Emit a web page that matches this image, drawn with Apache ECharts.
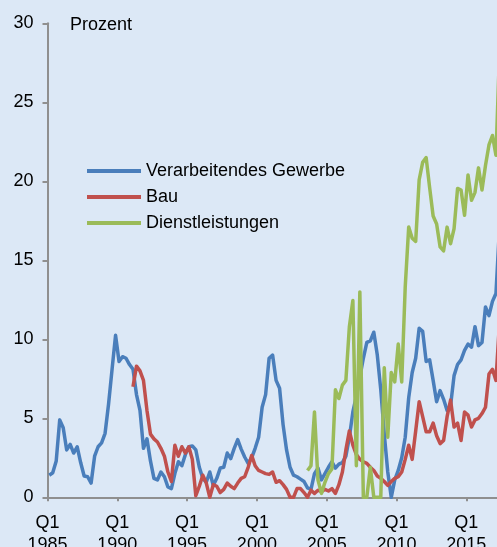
<!DOCTYPE html>
<html>
<head>
<meta charset="utf-8">
<script src="https://cdn.jsdelivr.net/npm/echarts@6/dist/echarts.min.js"></script>
<style>
html,body{margin:0;padding:0;background:#dce8f6;}
#chart{width:497px;height:547px;}
</style>
</head>
<body>
<div id="chart"></div>
<script>
// Quarterly series, starting 1985 Q1 (index 0)
const startYear = 1985;
const seriesNames = ['Verarbeitendes Gewerbe', 'Bau', 'Dienstleistungen'];

const manufacturing = [
 1.4,1.55,2.3,4.9,4.4,3.0,3.35,2.8,3.2,2.2,
 1.35,1.3,0.9,2.6,3.2,3.45,4.05,5.9,8.1,10.25,
 8.6,8.9,8.8,8.4,8.1,6.5,5.5,3.1,3.7,2.3,
 1.2,1.1,1.6,1.3,0.65,0.55,1.5,2.25,2.0,2.7,
 3.2,3.25,3.0,1.9,1.2,0.95,1.6,0.75,1.2,1.85,
 1.9,2.8,2.45,3.1,3.65,3.05,2.55,2.15,2.5,3.1,
 3.8,5.7,6.5,8.8,9.0,7.4,6.9,4.6,3.0,1.9,
 1.4,1.3,1.15,1.0,0.6,0.5,1.5,1.85,1.1,1.5,
 1.9,2.25,1.85,2.1,2.2,2.6,3.8,5.4,6.4,7.6,
 8.8,9.8,9.9,10.45,9.0,6.8,4.0,1.6,0.0,1.1,
 1.7,2.5,3.8,6.3,7.9,8.8,10.7,10.5,8.6,8.7,
 7.4,6.05,6.75,6.2,5.5,5.8,7.7,8.4,8.7,9.3,
 9.7,9.5,10.8,9.6,9.8,12.05,11.5,12.4,12.9,17.0
];

const construction = [
 null,null,null,null,null,null,null,null,null,null,
 null,null,null,null,null,null,null,null,null,null,
 null,null,null,null,7.0,8.3,8.0,7.4,5.5,4.0,
 3.7,3.5,3.1,2.6,1.6,1.0,3.3,2.6,3.2,2.8,
 3.2,2.4,0.1,0.7,1.4,0.9,0.0,0.8,0.7,0.3,
 0.5,0.9,0.7,0.55,0.9,1.2,1.3,1.9,2.65,2.0,
 1.7,1.6,1.5,1.45,1.6,0.95,1.05,0.8,0.5,0.0,
 0.0,0.55,0.55,0.3,0.0,0.45,0.25,0.45,0.35,0.5,
 0.4,0.55,0.25,0.8,1.6,3.0,4.2,3.3,2.7,2.4,
 2.25,2.15,1.9,1.7,1.35,1.2,1.0,0.75,1.0,1.2,
 1.3,1.6,2.4,3.3,2.4,4.2,6.05,5.1,4.15,4.15,
 4.7,3.9,3.4,3.6,5.1,6.15,4.45,4.7,3.6,5.4,
 5.2,4.45,4.9,5.0,5.3,5.7,7.8,8.1,7.4,11.0
];

const services = [
 null,null,null,null,null,null,null,null,null,null,
 null,null,null,null,null,null,null,null,null,null,
 null,null,null,null,null,null,null,null,null,null,
 null,null,null,null,null,null,null,null,null,null,
 null,null,null,null,null,null,null,null,null,null,
 null,null,null,null,null,null,null,null,null,null,
 null,null,null,null,null,null,null,null,null,null,
 null,null,null,null,1.7,2.0,5.4,1.1,0.25,0.95,
 1.5,1.8,6.8,6.25,7.1,7.4,10.8,12.45,2.0,13.0,
 0,0,1.9,0,0,0,8.2,3.8,7.9,7.3,
 9.7,7.3,13.3,17.1,16.4,16.2,20.1,21.2,21.5,19.6,
 17.8,17.3,15.85,15.6,17.1,16.05,17.0,19.55,19.45,17.85,
 20.4,18.8,19.3,20.85,19.45,21.0,22.3,22.9,21.65,28.0
];

const yTicks = [0, 5, 10, 15, 20, 25, 30];
const xTickQuarters = [0, 20, 40, 60, 80, 100, 120];

function toPoints(arr) {
  // each quarter is plotted at the centre of its band
  return arr.map((v, i) => [i + 0.5, v]);
}

const FONT = '"Liberation Sans", Arial, sans-serif';
const FS = 18;
const chart = echarts.init(document.getElementById('chart'), null, {renderer: 'canvas'});
const colors = ['#4a7ebb', '#c0504d', '#9bbb59'];

chart.setOption({
  animation: false,
  backgroundColor: '#dce8f6',
  textStyle: {fontFamily: FONT},
  title: {
    text: 'Prozent', left: 70, top: 16, padding: 0,
    textStyle: {fontSize: FS, fontWeight: 'normal', color: '#000', fontFamily: FONT}
  },
  legend: {
    orient: 'vertical', left: 87, top: 161, padding: 0,
    itemWidth: 54, itemHeight: 4, itemGap: 6, icon: 'rect',
    textStyle: {fontSize: FS, color: '#000', lineHeight: 20, fontFamily: FONT},
    data: seriesNames
  },
  grid: {left: 47.5, top: 23.3, bottom: 49.7, right: 0, containLabel: false, outerBoundsMode: 'none'},
  xAxis: {
    type: 'value', min: 0, max: 128.8,
    splitLine: {show: false},
    axisLine: {show: true, lineStyle: {color: '#8f8f8f', width: 2}},
    axisTick: {show: true, length: 4, customValues: xTickQuarters, lineStyle: {color: '#8f8f8f', width: 2}},
    axisLabel: {
      fontSize: FS, color: '#000', margin: 15, lineHeight: 22, fontFamily: FONT,
      customValues: xTickQuarters,
      formatter: v => 'Q1\n' + (startYear + v / 4)
    }
  },
  yAxis: {
    type: 'value', min: yTicks[0], max: yTicks[yTicks.length - 1], interval: 5,
    splitLine: {show: false},
    axisLine: {show: true, lineStyle: {color: '#8f8f8f', width: 2}},
    axisTick: {show: true, length: 5, lineStyle: {color: '#8f8f8f', width: 2}},
    axisLabel: {fontSize: FS, color: '#000', margin: 14, fontFamily: FONT}
  },
  series: [
    {name: seriesNames[0], type: 'line', data: toPoints(manufacturing), showSymbol: false,
     lineStyle: {color: colors[0], width: 3.5, join: 'round'}, itemStyle: {color: colors[0]}},
    {name: seriesNames[1], type: 'line', data: toPoints(construction), showSymbol: false,
     lineStyle: {color: colors[1], width: 3.5, join: 'round'}, itemStyle: {color: colors[1]}},
    {name: seriesNames[2], type: 'line', data: toPoints(services), showSymbol: false,
     lineStyle: {color: colors[2], width: 3.5, join: 'round'}, itemStyle: {color: colors[2]}}
  ]
});
</script>
</body>
</html>
